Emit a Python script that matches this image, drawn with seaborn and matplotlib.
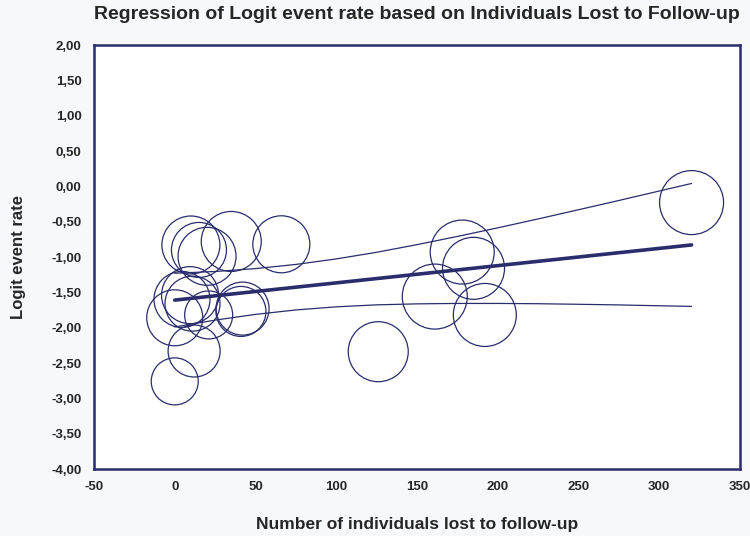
import matplotlib
matplotlib.use('Agg')
import matplotlib.pyplot as plt
import matplotlib.ticker as mticker
import numpy as np
import pandas as pd
import seaborn as sns

# Study data
lost = [10, 35, 66, 15, 20, 4.5, 9.5, 11, 0, 21, 42, 41, 12, 0,
        178, 185, 161, 192, 126, 320]
logit_rate = [-0.83, -0.78, -0.82, -0.90, -0.99, -1.60, -1.54, -1.66, -1.86, -1.82,
              -1.73, -1.77, -2.33, -2.76, -0.93, -1.16, -1.56, -1.82, -2.34, -0.23]
weights = [58, 60, 57, 55, 58, 56, 57, 55, 56, 48, 53, 50, 52, 47,
           64, 62, 65, 63, 60, 64]

# Regression line and confidence band
fit_x = [0, 25, 50, 75, 100, 125, 150, 175, 200, 225, 250, 275, 300, 320]
fit_y = [-1.61, -1.549, -1.488, -1.427, -1.366, -1.305, -1.244, -1.183, -1.122,
         -1.061, -1.00, -0.939, -0.878, -0.829]
ci_upper = [-1.23, -1.205, -1.164, -1.105, -1.027, -0.933, -0.825, -0.709, -0.587,
            -0.461, -0.331, -0.200, -0.066, 0.041]
ci_lower = [-1.99, -1.893, -1.812, -1.749, -1.705, -1.677, -1.663, -1.657, -1.657,
            -1.661, -1.669, -1.678, -1.690, -1.699]

x_ticks = [-50, 0, 50, 100, 150, 200, 250, 300, 350]
y_ticks = [2.0, 1.5, 1.0, 0.5, 0.0, -0.5, -1.0, -1.5, -2.0, -2.5, -3.0, -3.5, -4.0]

df = pd.DataFrame({'lost': lost, 'logit': logit_rate, 'w': weights})
fit = pd.DataFrame({'x': fit_x, 'y': fit_y, 'up': ci_upper, 'lo': ci_lower})

navy = '#2a2c6c'
sns.set_style('white')
plt.rcParams['font.family'] = ['Liberation Sans', 'DejaVu Sans']
plt.rcParams['axes.unicode_minus'] = False

fig, ax = plt.subplots(figsize=(7.5, 5.36), dpi=100)
fig.patch.set_facecolor('#f7f8fb')
ax.set_facecolor('white')
fig.subplots_adjust(left=0.1253, right=0.9867, top=0.916, bottom=0.125)

# bubble sizes: weights are diameters in px -> area in pt^2
df['s'] = (df['w'] * 0.72) ** 2
ax.scatter(df['lost'], df['logit'], s=df['s'], facecolors='none',
           edgecolors=navy, linewidths=0.9, zorder=3)

sns.lineplot(data=fit, x='x', y='y', ax=ax, color=navy, linewidth=2.6, zorder=4)
sns.lineplot(data=fit, x='x', y='up', ax=ax, color=navy, linewidth=0.9, zorder=4)
sns.lineplot(data=fit, x='x', y='lo', ax=ax, color=navy, linewidth=0.9, zorder=4)

ax.set_xlim(-50, 350)
ax.set_ylim(-4, 2)
ax.set_xticks(x_ticks)
ax.set_yticks(y_ticks)
ax.yaxis.set_major_formatter(mticker.FuncFormatter(lambda v, p: f'{v:.2f}'.replace('.', ',')))

for sp in ax.spines.values():
    sp.set_color(navy)
    sp.set_linewidth(1.8)
ax.tick_params(axis='both', direction='out', length=5, width=1.5, color=navy,
               labelsize=9.5, pad=4)
plt.setp(ax.get_xticklabels(), fontweight='bold')
plt.setp(ax.get_yticklabels(), fontweight='bold')

ax.set_title('Regression of Logit event rate based on Individuals Lost to Follow-up',
             fontsize=14, fontweight='bold', pad=19)
ax.set_xlabel('Number of individuals lost to follow-up', fontsize=12.5, fontweight='bold', labelpad=17)
ax.set_ylabel('Logit event rate', fontsize=12, fontweight='bold', labelpad=18)

fig.savefig('out.png', dpi=100, facecolor=fig.get_facecolor())
